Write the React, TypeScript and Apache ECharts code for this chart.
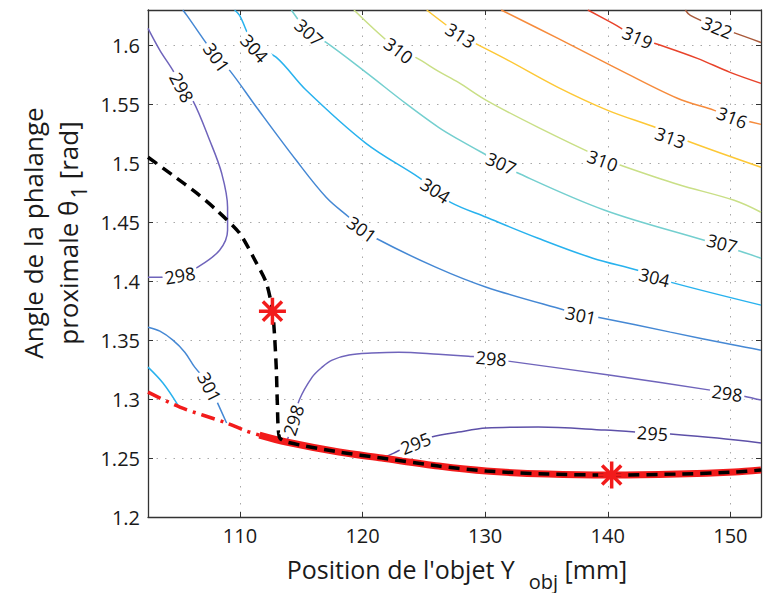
import React, { useEffect, useRef } from 'react';
import * as echarts from 'echarts';

// ---- axes ----
const xMin = 102.5;
const xMax = 152.5;
const yMin = 1.2;
const yMax = 1.63;
const yStep = 0.05;

// ---- contour levels & colours ----
const levels = [295, 298, 301, 304, 307, 310, 313, 316, 319, 322];
const levelColors = ['#5d50a8', '#6f64bb', '#4588d4', '#28b2ee', '#74cfcf', '#c9df86', '#fdc836', '#f68b3c', '#e8432b', '#a9593a'];

// ---- contour lines [Y_obj (mm), theta1 (rad)] ----
const c322 = [[146.33, 1.63], [146.74, 1.6254], [148.93, 1.6153], [149.98, 1.6119], [152.5, 1.6025]];
const c319 = [[138.38, 1.63], [140.41, 1.6186], [142.44, 1.6068], [143.65, 1.6025], [147.31, 1.589], [149.98, 1.5771], [152.5, 1.5678]];
const c316 = [[131.31, 1.63], [135.94, 1.6059], [140.24, 1.5831], [145.68, 1.5551], [148.69, 1.5449], [150.15, 1.539], [152.5, 1.533]];
const c313 = [[125.23, 1.63], [127.99, 1.6085], [129.2, 1.6017], [131.88, 1.5873], [135.94, 1.5644], [140.0, 1.5449], [144.06, 1.5297], [146.33, 1.5195], [152.5, 1.4966]];
const c310 = [[119.3, 1.63], [122.95, 1.5958], [124.33, 1.5898], [126.2, 1.578], [127.82, 1.5686], [130.1, 1.5534], [134.32, 1.5305], [139.59, 1.5042], [141.06, 1.4983], [145.68, 1.4822], [150.31, 1.4686], [152.5, 1.4585]];
const c307 = [[114.19, 1.63], [115.65, 1.611], [117.03, 1.6025], [120.28, 1.5771], [123.52, 1.5508], [126.2, 1.5305], [127.82, 1.5203], [131.31, 1.5], [132.53, 1.4924], [139.76, 1.4602], [147.87, 1.4347], [149.17, 1.4305], [150.55, 1.4263], [152.5, 1.4195]];
const c304a = [[109.56, 1.63], [109.97, 1.6254], [111.19, 1.6], [112.97, 1.5898], [115.41, 1.5619], [120.28, 1.5169], [124.58, 1.4881], [125.96, 1.4771], [127.18, 1.4669], [130.1, 1.4542], [134.32, 1.4364], [138.78, 1.4195], [142.44, 1.4093], [143.81, 1.4042], [145.11, 1.3992], [152.5, 1.3797]];
const c304b = [[102.5, 1.3271], [103.72, 1.3136], [104.94, 1.2949]];
const c301a = [[105.34, 1.63], [105.67, 1.6254], [108.1, 1.5898], [109.16, 1.5788], [111.35, 1.5475], [114.59, 1.5025], [117.03, 1.4712], [118.9, 1.4542], [119.95, 1.4449], [121.09, 1.4364], [125.96, 1.4119], [130.1, 1.3949], [136.51, 1.3754], [137.81, 1.372], [139.19, 1.3695], [145.11, 1.3568], [150.31, 1.3458], [152.5, 1.3415]];
const c301b = [[102.5, 1.361], [103.47, 1.3576], [104.53, 1.35], [105.5, 1.3398], [106.31, 1.3271], [107.53, 1.3119], [108.18, 1.2966], [108.91, 1.2797]];
const c298a = [[102.5, 1.6144], [103.47, 1.5958], [104.53, 1.5788], [105.26, 1.5644], [106.15, 1.5534], [107.53, 1.5195], [108.51, 1.4915], [108.99, 1.4627], [108.99, 1.4432], [108.34, 1.4263], [106.56, 1.4119], [105.1, 1.4051], [103.47, 1.4034], [102.5, 1.4034]];
const c298b = [[113.86, 1.2653], [114.27, 1.278], [114.84, 1.2992], [115.89, 1.3186], [116.7, 1.3271], [117.52, 1.3331], [118.9, 1.3373], [120.76, 1.339], [122.95, 1.3398], [126.2, 1.3381], [128.64, 1.3364], [130.5, 1.3347], [131.88, 1.3322], [140.24, 1.3203], [148.36, 1.3076], [149.74, 1.3051], [151.12, 1.3025], [152.5, 1.2992]];
const c295 = [[121.57, 1.25], [122.55, 1.2542], [123.2, 1.2576], [124.33, 1.2627], [125.63, 1.2678], [127.82, 1.272], [130.1, 1.2754], [134.32, 1.2763], [139.76, 1.2737], [143.65, 1.2712], [145.11, 1.2703], [148.93, 1.2669], [152.5, 1.2627]];

// ---- contour labels [level, Y_obj, theta1, rotation deg] ----
const contourLabels = [
  [322, 148.93, 1.6153, -22],
  [319, 142.44, 1.6068, -24],
  [316, 150.15, 1.539, -21],
  [313, 127.99, 1.6085, -32],
  [313, 145.11, 1.522, -20],
  [310, 122.95, 1.5958, -37],
  [310, 139.59, 1.5025, -20],
  [307, 115.65, 1.611, -42],
  [307, 131.31, 1.5, -24],
  [307, 149.33, 1.4322, -15],
  [304, 111.19, 1.5975, -48],
  [304, 125.96, 1.4771, -33],
  [304, 143.81, 1.4034, -14],
  [301, 108.1, 1.5898, -55],
  [301, 119.95, 1.4441, -36],
  [301, 137.81, 1.3712, -12],
  [301, 107.53, 1.3102, -63],
  [298, 105.26, 1.5644, -62],
  [298, 105.1, 1.4051, 10],
  [298, 114.35, 1.2822, 72],
  [298, 130.5, 1.3347, -5],
  [298, 149.74, 1.3051, -8],
  [295, 124.33, 1.2627, 22],
  [295, 143.65, 1.2712, -4],
];

// ---- optimum paths ----
const redDashDot = [[102.5, 1.3059], [105.1, 1.2932], [108.91, 1.2797], [110.54, 1.2729], [111.59, 1.2695]];
const redSolid = [[111.59, 1.2695], [113.78, 1.2636], [118.08, 1.2551], [121.57, 1.25], [126.2, 1.2432], [130.1, 1.239], [135.13, 1.2364], [140.24, 1.2356], [145.68, 1.2364], [150.31, 1.2381], [152.5, 1.2398]];
const blackDashed = [[102.5, 1.5051], [104.53, 1.4898], [106.48, 1.4746], [108.1, 1.4602], [109.97, 1.4407], [111.35, 1.4153], [112.16, 1.3983], [112.65, 1.3754], [112.81, 1.3559], [112.97, 1.3246], [113.05, 1.2966], [113.21, 1.2678], [113.78, 1.2636], [118.08, 1.2551], [121.57, 1.25], [126.2, 1.2432], [130.1, 1.239], [135.13, 1.2364], [140.24, 1.2356], [145.68, 1.2364], [150.31, 1.2381], [152.5, 1.2398]];
const optimumStars = [[112.65, 1.3746], [140.32, 1.2356]];

const FONT = 'Open Sans';

const contours = [
  { level: 322, points: c322 },
  { level: 319, points: c319 },
  { level: 316, points: c316 },
  { level: 313, points: c313 },
  { level: 310, points: c310 },
  { level: 307, points: c307 },
  { level: 304, points: c304a },
  { level: 304, points: c304b },
  { level: 301, points: c301a },
  { level: 301, points: c301b },
  { level: 298, points: c298a },
  { level: 298, points: c298b },
  { level: 295, points: c295 },
];

const colorOf = (lv: number) => levelColors[levels.indexOf(lv)];

export default function App() {
  const ref = useRef<HTMLDivElement>(null);
  useEffect(() => {
    document.body.style.margin = '0';
    if (!ref.current) return;
    const chart = echarts.init(ref.current, null, { renderer: 'svg' });
    const axisLineStyle = { color: '#333', width: 1.3 };
    const gridLine = { show: true, lineStyle: { color: '#a8a8a8', width: 1, type: [1.5, 7] } };
    const xFmt = (v: number) => (Math.abs(v / 10 - Math.round(v / 10)) < 1e-6 ? String(Math.round(v)) : '');
    const yFmt = (v: number) => {
      const r = v / yStep;
      if (Math.abs(r - Math.round(r)) > 1e-6 || v > 1.6 + 1e-6) return '';
      return String(+v.toFixed(2));
    };
    const option: any = {
      animation: false,
      grid: { left: 148, top: 10, width: 616, height: 507, containLabel: false },
      xAxis: [
        {
          type: 'value', min: xMin, max: xMax, splitNumber: 5, position: 'bottom',
          axisLine: { show: true, onZero: false, lineStyle: axisLineStyle },
          axisTick: { show: true, inside: true, length: 5, lineStyle: { color: '#333' } },
          axisLabel: { formatter: xFmt, fontSize: 20, color: '#1a1a1a', fontFamily: FONT, margin: 8 },
          splitLine: gridLine,
        },
        {
          type: 'value', min: xMin, max: xMax, splitNumber: 5, position: 'top',
          axisLine: { show: true, onZero: false, lineStyle: axisLineStyle },
          axisTick: { show: true, inside: true, length: 5, lineStyle: { color: '#333' } },
          axisLabel: { show: false },
          splitLine: { show: false },
        },
      ],
      yAxis: [
        {
          type: 'value', min: yMin, max: yMax, interval: yStep, position: 'left',
          axisLine: { show: true, onZero: false, lineStyle: axisLineStyle },
          axisTick: { show: true, inside: true, length: 5, lineStyle: { color: '#333' } },
          axisLabel: { formatter: yFmt, fontSize: 20, color: '#1a1a1a', fontFamily: FONT, margin: 8 },
          splitLine: gridLine,
        },
        {
          type: 'value', min: yMin, max: yMax, interval: yStep, position: 'right',
          axisLine: { show: true, onZero: false, lineStyle: axisLineStyle },
          axisTick: { show: true, inside: true, length: 5, lineStyle: { color: '#333' } },
          axisLabel: { show: false },
          splitLine: { show: false },
        },
      ],
      series: [
        ...contours.map((c) => ({
          type: 'line', data: c.points, symbol: 'none', showSymbol: false, smooth: 0.35,
          lineStyle: { color: colorOf(c.level), width: 1.5 }, z: 2, silent: true,
        })),
        {
          type: 'line', data: redDashDot, symbol: 'none', smooth: 0.3, z: 3, silent: true,
          lineStyle: { color: '#f21b1b', width: 3.5, type: [14, 6, 3, 6] },
        },
        {
          type: 'line', data: redSolid, symbol: 'none', smooth: 0.3, z: 3, silent: true,
          lineStyle: { color: '#f21b1b', width: 7 },
        },
        {
          type: 'line', data: blackDashed, symbol: 'none', smooth: 0.25, z: 4, silent: true,
          lineStyle: { color: '#000', width: 3.5, type: [11, 7] },
        },
        {
          type: 'scatter', z: 5, silent: true, symbol: 'circle', symbolSize: 2,
          itemStyle: { color: 'rgba(255,255,255,0)' },
          data: contourLabels.map((l) => ({
            name: String(l[0]), value: [l[1], l[2]],
            label: { rotate: l[3] },
          })),
          label: {
            show: true, position: 'inside', formatter: '{b}', fontSize: 18, fontFamily: FONT,
            color: '#111111', backgroundColor: '#ffffff', padding: [0, 2],
            textBorderWidth: 0, textBorderColor: 'transparent', opacity: 1,
          },
        },
        {
          type: 'scatter', z: 6, silent: true, data: optimumStars,
          symbol: 'path://M0,-10L0,10M-10,0L10,0M-7.07,-7.07L7.07,7.07M-7.07,7.07L7.07,-7.07',
          symbolSize: 27,
          itemStyle: { color: 'none', borderColor: '#f21b1b', borderWidth: 3.5, opacity: 1 },
        },
      ],
      graphic: [
        {
          type: 'text', x: 33, y: 233, rotation: Math.PI / 2,
          style: { text: 'Angle de la phalange', align: 'center', verticalAlign: 'middle', fontSize: 26, fontFamily: FONT, fill: '#1a1a1a' },
        },
        {
          type: 'text', x: 68, y: 233, rotation: Math.PI / 2,
          style: {
            text: '{a|proximale θ}{s|1}{a| [rad]}', align: 'center', verticalAlign: 'middle', fontFamily: FONT, fill: '#1a1a1a',
            rich: {
              a: { fontSize: 26, fontFamily: FONT, fill: '#1a1a1a' },
              s: { fontSize: 22, fontFamily: FONT, fill: '#1a1a1a', padding: [20, 0, 0, 2] },
            },
          },
        },
        {
          type: 'text', x: 457, y: 569,
          style: {
            text: "{a|Position de l'objet Y}{s|obj}{a| [mm]}", align: 'center', verticalAlign: 'middle', fontFamily: FONT, fill: '#1a1a1a',
            rich: {
              a: { fontSize: 25, fontFamily: FONT, fill: '#1a1a1a' },
              s: { fontSize: 20, fontFamily: FONT, fill: '#1a1a1a', padding: [24, 0, 0, 14] },
            },
          },
        },
      ],
    };
    chart.setOption(option);
    return () => chart.dispose();
  }, []);
  return <div ref={ref} style={{ position: 'absolute', left: 0, top: 0, width: 764, height: 593 }} />;
}
